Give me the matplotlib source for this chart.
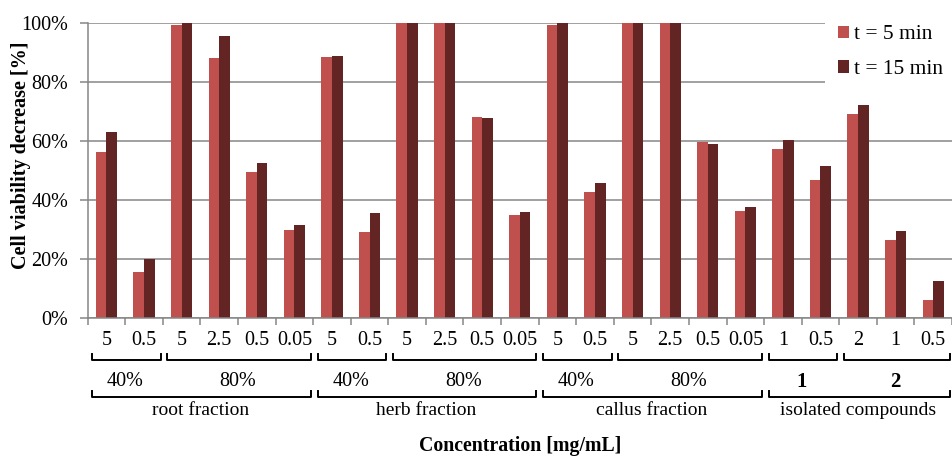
import numpy as np
import matplotlib
matplotlib.use("Agg")
import matplotlib.pyplot as plt
from matplotlib.patches import Patch

plt.rcParams["font.family"] = ["Liberation Serif", "DejaVu Serif"]

# concentracion de cada grupo (etiqueta del eje x)
concentraciones = ["5", "0.5", "5", "2.5", "0.5", "0.05",
                   "5", "0.5", "5", "2.5", "0.5", "0.05",
                   "5", "0.5", "5", "2.5", "0.5", "0.05",
                   "1", "0.5", "2", "1", "0.5"]

# valores en %
t5 = [56.5, 15.7, 99.3, 88.1, 49.5, 29.8,
      88.5, 29.3, 100, 100, 68.3, 35.0,
      99.4, 42.9, 100, 100, 59.9, 36.5,
      57.5, 46.8, 69.2, 26.4, 6.3]
t15 = [63.3, 20.1, 100, 95.7, 52.5, 31.5,
       88.8, 35.7, 100, 100, 67.9, 36.2,
       100, 45.9, 100, 100, 59.2, 37.6,
       60.3, 51.5, 72.2, 29.7, 12.8]

# segundo nivel: (etiqueta, primer grupo, ultimo grupo, negrita)
subgrupos = [("40%", 0, 1, False), ("80%", 2, 5, False),
             ("40%", 6, 7, False), ("80%", 8, 11, False),
             ("40%", 12, 13, False), ("80%", 14, 17, False),
             ("1", 18, 19, True), ("2", 20, 22, True)]
# tercer nivel
fracciones = [("root fraction", 0, 5), ("herb fraction", 6, 11),
              ("callus fraction", 12, 17), ("isolated compounds", 18, 22)]

ROJO = "#C0504D"
GRANATE = "#632523"
GRIS = "#868686"

fig = plt.figure(figsize=(9.52, 4.57), dpi=100)
ax = fig.add_axes([0.0921, 0.3035, 0.9079, 0.6455])

x = np.arange(len(concentraciones))
w = 0.283
ax.bar(x - w / 2, t5, width=w, color=ROJO, zorder=2)
ax.bar(x + w / 2, t15, width=w, color=GRANATE, zorder=2)

ax.set_xlim(-0.5, len(concentraciones) - 0.5)
ax.set_ylim(0, 100)
ax.set_yticks(np.arange(0, 101, 20))
ax.set_yticklabels([f"{v}%" for v in range(0, 101, 20)], fontsize=14.5)
ax.yaxis.grid(True, color=GRIS, linewidth=1.1, zorder=0)
ax.set_axisbelow(True)

for lado in ["top", "right"]:
    ax.spines[lado].set_visible(False)
for lado in ["left", "bottom"]:
    ax.spines[lado].set_color(GRIS)
    ax.spines[lado].set_linewidth(1.1)

# ticks del eje x en los limites de grupo, etiquetas en los centros
ax.set_xticks(np.arange(-0.5, len(concentraciones) + 0.5, 1))
ax.set_xticklabels([])
ax.set_xticks(x, minor=True)
ax.set_xticklabels(concentraciones, minor=True, fontsize=14.5)
ax.tick_params(axis="x", which="major", length=5, color=GRIS, width=1.1)
ax.tick_params(axis="x", which="minor", length=0, pad=9)
ax.tick_params(axis="y", length=6, color=GRIS, width=1.1, pad=8)

tr = ax.get_xaxis_transform()


def corchete(x0, x1, y, alto):
    ax.plot([x0, x0, x1, x1], [y + alto, y, y, y + alto], color="black",
            linewidth=1.4, transform=tr, clip_on=False)


for etiqueta, a, b, negrita in subgrupos:
    corchete(a - 0.5 + 0.12, b + 0.5 - 0.06, -0.141, 0.02)
    ax.text((a + b) / 2, -0.215, etiqueta, transform=tr, ha="center", va="center",
            fontsize=15 if negrita else 14.5,
            fontweight="bold" if negrita else "normal")

for etiqueta, a, b in fracciones:
    corchete(a - 0.5 + 0.12, b + 0.5 - 0.06, -0.266, 0.021)
    ax.text((a + b) / 2, -0.311, etiqueta, transform=tr, ha="center", va="center",
            fontsize=14)

ax.text(0.5, -0.433, "Concentration [mg/mL]", transform=ax.transAxes,
        ha="center", va="center", fontsize=14.3, fontweight="bold")
fig.text(21 / 952, 1 - 155 / 457, "Cell viability decrease [%]", rotation=90,
         ha="center", va="center", fontsize=14.5, fontweight="bold")

leyenda = [Patch(facecolor=ROJO, label="t = 5 min"),
           Patch(facecolor=GRANATE, label="t = 15 min")]
ax.legend(handles=leyenda, loc="upper right", bbox_to_anchor=(1.0042, 0.9725),
          bbox_transform=fig.transFigure, borderaxespad=0, borderpad=0.6,
          frameon=True, facecolor="white", edgecolor="none", framealpha=1,
          fancybox=False, fontsize=15.5, handlelength=0.51, handleheight=0.51,
          handletextpad=0.25, labelspacing=0.73)

fig.savefig("out.png", dpi=100)
plt.close(fig)
